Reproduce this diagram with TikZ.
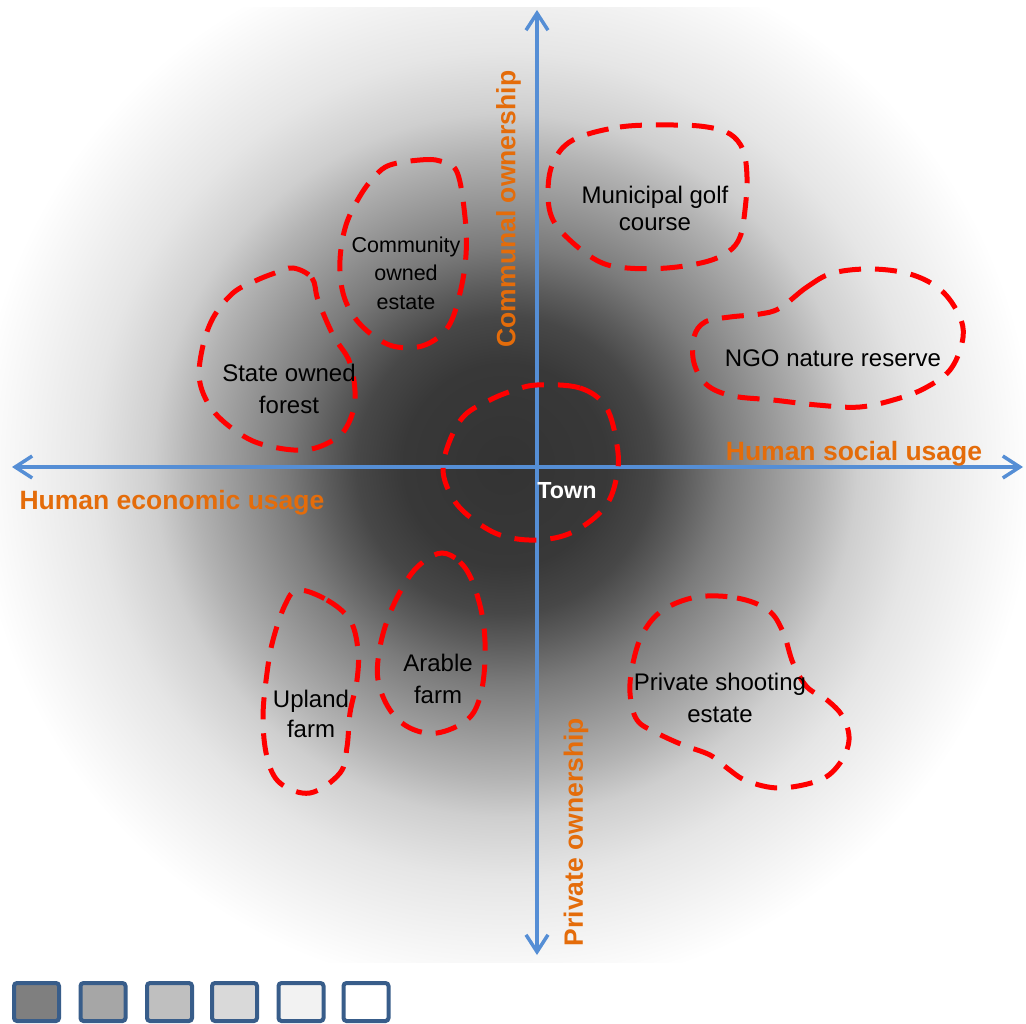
\documentclass[tikz,border=0pt]{standalone}
\usepackage{fontspec}
\setmainfont{Liberation Sans}
\usetikzlibrary{arrows.meta}
\definecolor{axisblue}{RGB}{85,142,213}
\definecolor{lblorange}{RGB}{228,108,10}
\definecolor{blobred}{RGB}{255,0,0}
\definecolor{legborder}{RGB}{56,93,138}
\definecolor{g0}{gray}{0.20}
\definecolor{g1}{gray}{0.22}
\definecolor{g2}{gray}{0.28}
\definecolor{g3}{gray}{0.36}
\definecolor{g4}{gray}{0.48}
\definecolor{g5}{gray}{0.70}
\definecolor{g6}{gray}{0.81}
\definecolor{g7}{gray}{0.90}
\definecolor{g8}{gray}{0.96}
\definecolor{k1}{HTML}{7F7F7F}
\definecolor{k2}{HTML}{A6A6A6}
\definecolor{k3}{HTML}{BFBFBF}
\definecolor{k4}{HTML}{D9D9D9}
\definecolor{k5}{HTML}{F2F2F2}
\pgfdeclareradialshading{bgshade}{\pgfpoint{0bp}{0bp}}{color(0bp)=(g0); color(4.8bp)=(g1); color(7bp)=(g2); color(8.4bp)=(g3); color(10.3bp)=(g4); color(14.7bp)=(g5); color(16.6bp)=(g6); color(19.5bp)=(g7); color(22.8bp)=(g8); color(25bp)=(white); color(50bp)=(white)}
\begin{document}
\begin{tikzpicture}[x=1pt,y=-1pt,
  axisline/.style={draw=axisblue, line width=3.5pt,
    {Straight Barb[length=17pt,width=22pt]}-{Straight Barb[length=17pt,width=22pt]}},
  blob/.style={draw=blobred, line width=5pt, dash pattern=on 22pt off 14pt},
  lbl/.style={inner sep=0pt, text=black, align=center},
  axlbl/.style={inner sep=0pt, text=lblorange, font=\bfseries\fontsize{26.5}{30}\selectfont},
  legbox/.style={draw=legborder, line width=4pt, rounded corners=3pt, minimum width=45pt, minimum height=38pt, inner sep=0pt}
]
\useasboundingbox (0,0) rectangle (1026,1024);
\fill[white] (0,0) rectangle (1026,1024);
\begin{scope}
  \clip (0,8) rectangle (1026,962);
  \shade[shading=bgshade] (505,465) circle[radius=530pt];
\end{scope}

% axes
\coordinate (xl) at (12,467);
\coordinate (xr) at (1023,467);
\coordinate (yt) at (537,10);
\coordinate (yb) at (537,955);
\draw[axisline] (xl) -- (xr);
\draw[axisline] (yb) -- (yt);

% blobs
\draw[blob] plot[smooth cycle, tension=0.6] coordinates {(537,385) (580,388) (606,407) (617,445) (617,475) (605,507) (573,532) (537,540) (500,535) (470,517) (452,497) (443,470) (450,440) (465,415) (490,400) (512,391)};
\draw[blob] plot[smooth cycle, tension=0.6] coordinates {(390,165) (420,160) (440,161) (457,172) (465,217) (466,255) (460,293) (448,327) (425,345) (397,347) (375,337) (355,318) (343,293) (340,260) (346,225) (360,196) (375,176)};
\draw[blob] plot[smooth cycle, tension=0.6] coordinates {(293,268) (312,278) (318,300) (333,335) (350,363) (355,400) (346,428) (330,442) (305,450) (273,447) (245,437) (215,413) (200,383) (202,350) (213,318) (233,293) (255,281) (275,273)};
\draw[blob] plot[smooth cycle, tension=0.6] coordinates {(573,140) (620,127) (673,125) (707,127) (730,134) (743,150) (747,177) (745,210) (740,237) (728,252) (705,262) (667,268) (627,268) (600,262) (573,243) (553,220) (548,193) (553,163)};
\draw[blob] plot[smooth cycle, tension=0.6] coordinates {(780,308) (807,287) (833,273) (873,269) (913,275) (943,292) (961,320) (962,343) (950,370) (927,387) (900,398) (860,407) (817,405) (773,400) (733,396) (707,385) (694,363) (694,337) (705,322) (730,317) (760,314)};
\draw[blob] plot[smooth cycle, tension=0.6] coordinates {(298,590) (327,600) (350,620) (358,650) (357,680) (350,713) (347,747) (340,773) (310,793) (280,783) (267,757) (263,717) (267,673) (273,640) (285,605)};
\draw[blob] plot[smooth cycle, tension=0.6] coordinates {(442,553) (460,562) (473,583) (483,620) (485,660) (480,697) (467,720) (437,733) (410,728) (390,710) (378,680) (380,647) (390,613) (407,580) (423,562)};
\draw[blob] plot[smooth cycle, tension=0.6] coordinates {(697,597) (737,598) (768,610) (783,632) (793,663) (807,687) (827,700) (843,717) (849,740) (840,763) (820,780) (780,788) (747,781) (727,768) (710,755) (683,745) (657,733) (637,720) (630,693) (633,663) (643,633) (663,610)};

% axis labels
\node[axlbl, anchor=north] (econ) at (172,489.7) {Human economic usage};
\node[axlbl, anchor=north] (social) at (854,440.7) {Human social usage};
\node[axlbl, rotate=90] (communal) at (508.5,209) {Communal ownership};
\node[axlbl, rotate=90] (private) at (576,832) {Private ownership};

% area labels
\node[lbl, anchor=north, font=\fontsize{24}{27}\selectfont] (golf) at (655,185.5) {Municipal golf\\course};
\node[lbl, anchor=north, font=\fontsize{24}{29}\selectfont] (ngo) at (833,349.5) {NGO nature reserve};
\node[lbl, anchor=north, font=\fontsize{21.5}{28.5}\selectfont] (community) at (406,236.3) {Community\\owned\\estate};
\node[lbl, anchor=north, font=\fontsize{24}{32}\selectfont] (state) at (289,363.5) {State owned\\forest};
\node[lbl, anchor=north, font=\fontsize{24}{30}\selectfont] (upland) at (311,689.5) {Upland\\farm};
\node[lbl, anchor=north, font=\fontsize{24}{32}\selectfont] (arable) at (438,653.5) {Arable\\farm};
\node[lbl, anchor=north, font=\fontsize{24}{32}\selectfont] (shooting) at (720,672.5) {Private shooting\\estate};
\node[lbl, anchor=north, text=white, font=\bfseries\fontsize{23.3}{28}\selectfont] (town) at (567,482) {Town};

% legend
\node[legbox, fill=k1] (key1) at (36.5,1002) {};
\node[legbox, fill=k2] (key2) at (103,1002) {};
\node[legbox, fill=k3] (key3) at (169.5,1002) {};
\node[legbox, fill=k4] (key4) at (234.5,1002) {};
\node[legbox, fill=k5] (key5) at (301,1002) {};
\node[legbox, fill=white] (key6) at (366,1002) {};
\end{tikzpicture}
\end{document}
